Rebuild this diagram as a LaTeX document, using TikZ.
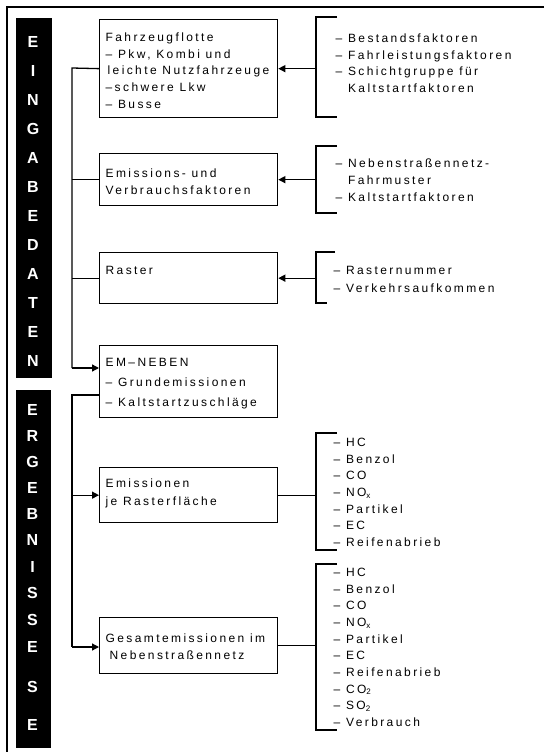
\documentclass[tikz,border=0pt]{standalone}
\usepackage{fontspec}
\setmainfont{Liberation Sans}
\newfontfamily\diafont[LetterSpace=20]{Liberation Sans}
\usetikzlibrary{arrows.meta}
\begin{document}
\begin{tikzpicture}[x=1pt,y=-1pt,line width=1.3pt,
  box/.style={draw,line width=1.3pt,inner sep=0pt,anchor=north west,minimum width=178pt},
  txt/.style={inner sep=0pt,anchor=base west,align=left,font=\diafont\fontsize{12}{16.7}\selectfont},
  barbox/.style={fill=black,draw=none,inner sep=0pt,anchor=north west},
  barletter/.style={text=white,inner sep=0pt,font=\bfseries\fontsize{16}{16}\selectfont},
  arr/.style={-{Triangle[length=7pt,width=7pt]}}]
\useasboundingbox (0,0) rectangle (544,752);
% frame
\draw (544,7) -- (7,7) -- (7,752);
% side bars
\node[barbox,minimum width=36pt,minimum height=360pt] (bar1) at (15,17) {};
\node[barbox,minimum width=35pt,minimum height=358pt] (bar2) at (15,389) {};
\foreach \l [count=\i] in {E,I,N,G,A,B,E,D,A,T,E,N}
  \node[barletter] (ein\i) at (33,{42+29*(\i-1)}) {\l};
\foreach \l/\yy [count=\i] in {E/410,R/436,G/462,E/488,B/514,N/540,I/567,S/593,S/620,E/647,S/687,E/725}
  \node[barletter] (erg\i) at (32.5,\yy) {\l};
% boxes
\node[box,minimum height=98pt] (b1) at (99,19) {};
\node[box,minimum height=52pt] (b2) at (99,153) {};
\node[box,minimum height=51pt] (b3) at (99,252) {};
\node[box,minimum height=72pt] (b4) at (99,345) {};
\node[box,minimum height=55pt] (b5) at (99,467) {};
\node[box,minimum height=56pt] (b6) at (99,617) {};
% box texts (anchored at the baseline of the last line)
\node[txt] (t1) at (105,108.3) {Fahrzeugflotte\\– Pkw, Kombi und\\\hspace*{2pt}leichte Nutzfahrzeuge\\–schwere Lkw\\– Busse};
\node[txt,font=\diafont\fontsize{12}{17}\selectfont] (t2) at (105,194.5) {Emissions- und\\Verbrauchsfaktoren};
\node[txt] (t3) at (105,274.5) {Raster};
\node[txt,font=\diafont\fontsize{12}{20}\selectfont] (t4) at (105,406.5) {EM–NEBEN\\– Grundemissionen\\– Kaltstartzuschläge};
\node[txt,font=\diafont\fontsize{12}{18}\selectfont] (t5) at (105,505.5) {Emissionen\\je Rasterfläche};
\node[txt,font=\diafont\fontsize{12}{17}\selectfont] (t6) at (105,659) {Gesamtemissionen im\\\hspace*{4pt}Nebenstraßennetz};
% right lists
\node[txt] (r1) at (335,92.6) {– Bestandsfaktoren\\– Fahrleistungsfaktoren\\– Schichtgruppe für\\\phantom{– }Kaltstartfaktoren};
\node[txt,font=\diafont\fontsize{12}{17}\selectfont] (r2) at (335,201.5) {– Nebenstraßennetz-\\\phantom{– }Fahrmuster\\– Kaltstartfaktoren};
\node[txt,font=\diafont\fontsize{12}{18}\selectfont] (r3) at (333,292.5) {– Rasternummer\\– Verkehrsaufkommen};
\node[txt,font=\diafont\fontsize{12}{16.67}\selectfont] (r5) at (333,546.5) {– HC\\– Benzol\\– CO\\– NO\textsubscript{x}\\– Partikel\\– EC\\– Reifenabrieb};
\node[txt,font=\diafont\fontsize{12}{16.67}\selectfont] (r6) at (333,726.5) {– HC\\– Benzol\\– CO\\– NO\textsubscript{x}\\– Partikel\\– EC\\– Reifenabrieb\\– CO\textsubscript{2}\\– SO\textsubscript{2}\\– Verbrauch};
% left trees
\coordinate (ltop) at (72,68);
\coordinate (lbot) at (72,368);
\draw (b1.west) -- (ltop) -- (lbot);
\draw (b2.west) -- (b2.west -| ltop);
\draw (b3.west) -- (b3.west -| ltop);
\draw[arr] (lbot) -- (lbot -| b4.west);
\coordinate (rtop) at (72,395);
\coordinate (rbot) at (72,647);
\draw (rtop -| b4.west) -- (rtop) -- (rbot);
\draw[arr] (rtop |- b5.west) -- (b5.west);
\draw[arr] (rbot) -- (rbot -| b6.west);
% right brackets
\coordinate (k1a) at (316,17); \coordinate (k1b) at (316,117);
\draw (337,17) -- (k1a) -- (k1b) -- (337,117);
\draw[arr] (k1a |- b1.east) -- (b1.east);
\coordinate (k2a) at (316,146); \coordinate (k2b) at (316,213);
\draw (337,146) -- (k2a) -- (k2b) -- (337,213);
\draw[arr] (k2a |- b2.east) -- (b2.east);
\coordinate (k3a) at (316,252); \coordinate (k3b) at (316,303);
\draw (335,252) -- (k3a) -- (k3b) -- (327,303);
\draw[arr] (k3a |- b3.east) -- (b3.east);
\coordinate (k5a) at (316,433); \coordinate (k5b) at (316,550);
\draw (337,433) -- (k5a) -- (k5b) -- (337,550);
\draw (b5.east) -- (b5.east -| k5a);
\coordinate (k6a) at (316,564); \coordinate (k6b) at (316,730);
\draw (337,564) -- (k6a) -- (k6b) -- (337,730);
\draw (b6.east) -- (b6.east -| k6a);
\end{tikzpicture}
\end{document}
